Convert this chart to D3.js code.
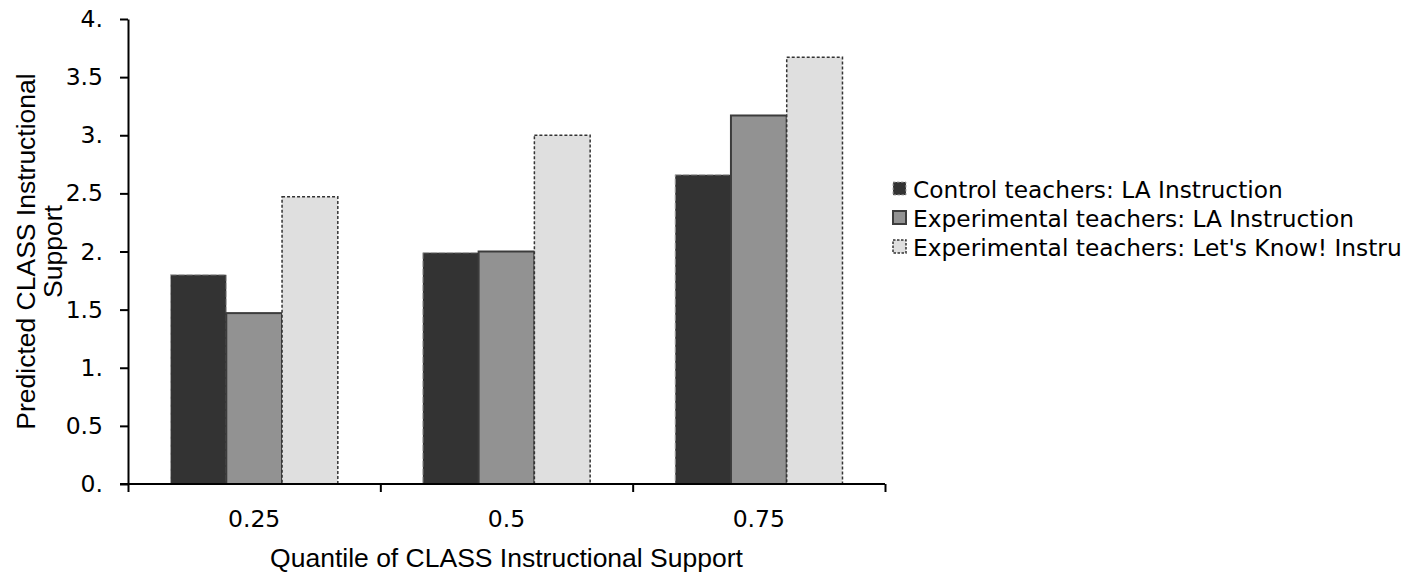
<!DOCTYPE html>
<html>
<head>
<meta charset="utf-8">
<script src="https://cdn.jsdelivr.net/npm/d3@7"></script>
<style>
  body { margin: 0; background: #fff; }
  svg { display: block; }
</style>
</head>
<body>
<div id="chart"></div>
<script>
// data
var categories = ["0.25", "0.5", "0.75"];
var seriesNames = ["Control teachers: LA Instruction",
                   "Experimental teachers: LA Instruction",
                   "Experimental teachers: Let's Know! Instru"];
var controlLA = [1.80, 1.99, 2.66];
var experimentalLA = [1.47, 2.00, 3.17];
var experimentalLK = [2.47, 3.00, 3.67];
var yTickValues = [0, 0.5, 1, 1.5, 2, 2.5, 3, 3.5, 4];
var yTickLabels = ["0.", "0.5", "1.", "1.5", "2.", "2.5", "3.", "3.5", "4."];

var W = 1414, H = 575;
var margin = {top: 19, left: 128, right: 529, bottom: 91};
var plotW = W - margin.left - margin.right,
    plotH = H - margin.top - margin.bottom;

var tickFont = "'DejaVu Sans', Tahoma, sans-serif";
var titleFont = "'Liberation Sans', Arial, sans-serif";

var series = [
  {name: seriesNames[0], values: controlLA, fill: "#333333", stroke: "#a8a8a8", dash: "6,2", sw: 1},
  {name: seriesNames[1], values: experimentalLA, fill: "#929292", stroke: "#3c3c3c", dash: null, sw: 2},
  {name: seriesNames[2], values: experimentalLK, fill: "#dfdfdf", stroke: "#333333", dash: "3,2", sw: 1.5}
];

var svg = d3.select("#chart").append("svg")
    .attr("width", W)
    .attr("height", H);

var g = svg.append("g")
    .attr("transform", "translate(" + margin.left + "," + margin.top + ")");

// scales
var x0 = d3.scaleBand()
    .domain(categories)
    .range([0, plotW])
    .paddingInner(0.337)
    .paddingOuter(0.337 / 2);

var x1 = d3.scaleBand()
    .domain(d3.range(series.length))
    .range([0, x0.bandwidth()]);

var y = d3.scaleLinear()
    .domain([0, 4])
    .range([plotH, 0]);

// bars
var groups = g.selectAll(".grp")
    .data(categories)
    .enter().append("g")
    .attr("class", "grp")
    .attr("transform", function(d) { return "translate(" + x0(d) + ",0)"; });

groups.selectAll("rect")
    .data(function(d, i) { return series.map(function(s, j) { return {s: s, j: j, v: s.values[i]}; }); })
    .enter().append("rect")
    .attr("x", function(d) { return x1(d.j); })
    .attr("y", function(d) { return y(d.v); })
    .attr("width", x1.bandwidth())
    .attr("height", function(d) { return plotH - y(d.v); })
    .attr("fill", function(d) { return d.s.fill; })
    .attr("stroke", function(d) { return d.s.stroke; })
    .attr("stroke-width", function(d) { return d.s.sw; })
    .attr("stroke-dasharray", function(d) { return d.s.dash; });

// y axis
var yAxis = g.append("g")
    .call(d3.axisLeft(y)
      .tickValues(yTickValues)
      .tickFormat(function(d, i) { return yTickLabels[i]; })
      .tickSize(8)
      .tickSizeOuter(0)
      .tickPadding(17));
yAxis.selectAll("path, line").attr("stroke", "#000").attr("stroke-width", 2);
yAxis.selectAll("text")
    .attr("font-family", tickFont)
    .attr("font-size", "23.5px")
    .attr("fill", "#000");

// x axis: ticks at the category boundaries, labels at the centres
var xb = d3.scaleLinear().domain([0, categories.length]).range([0, plotW]);
var xAxis = g.append("g")
    .attr("transform", "translate(0," + plotH + ")")
    .call(d3.axisBottom(xb)
      .tickValues(d3.range(categories.length + 1))
      .tickFormat("")
      .tickSize(8)
      .tickSizeOuter(0));
xAxis.select(".domain").attr("d", "M-8,0H" + plotW);
xAxis.selectAll("path, line").attr("stroke", "#000").attr("stroke-width", 2);

g.append("g")
    .selectAll("text")
    .data(categories)
    .enter().append("text")
    .attr("x", function(d) { return x0(d) + x0.bandwidth() / 2; })
    .attr("y", plotH + 43)
    .attr("text-anchor", "middle")
    .attr("font-family", tickFont)
    .attr("font-size", "23.5px")
    .attr("fill", "#000")
    .text(function(d) { return d; });

// axis titles
svg.append("text")
    .attr("x", margin.left + plotW / 2)
    .attr("y", 567)
    .attr("text-anchor", "middle")
    .attr("font-family", titleFont)
    .attr("font-size", "26.5px")
    .attr("fill", "#000")
    .text("Quantile of CLASS Instructional Support");

var yTitle = svg.append("text")
    .attr("transform", "translate(35," + (margin.top + plotH / 2) + ") rotate(-90)")
    .attr("text-anchor", "middle")
    .attr("font-family", titleFont)
    .attr("font-size", "26.5px")
    .attr("fill", "#000");
yTitle.append("tspan").attr("x", 0).attr("dy", 0).text("Predicted CLASS Instructional");
yTitle.append("tspan").attr("x", 0).attr("dy", 27).text("Support");

// legend
var legend = svg.append("g")
    .attr("transform", "translate(893,182)");

var items = legend.selectAll(".item")
    .data(series)
    .enter().append("g")
    .attr("class", "item")
    .attr("transform", function(d, i) { return "translate(0," + (i * 29) + ")"; });

items.append("rect")
    .attr("width", 13)
    .attr("height", 13)
    .attr("fill", function(d) { return d.fill; })
    .attr("stroke", function(d) { return d.stroke; })
    .attr("stroke-width", function(d) { return d.sw; })
    .attr("stroke-dasharray", function(d) { return d.dash ? "2.5,1.5" : null; });

items.append("text")
    .attr("x", 20)
    .attr("y", 16)
    .attr("font-family", tickFont)
    .attr("font-size", "23.3px")
    .attr("fill", "#000")
    .text(function(d) { return d.name; });
</script>
</body>
</html>
